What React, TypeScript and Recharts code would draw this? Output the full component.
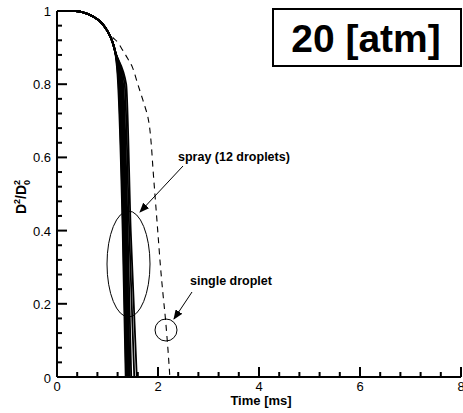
import { LineChart, Line, XAxis, YAxis, ReferenceLine } from "recharts";

// shared early part of all curves (time [ms], D^2/D0^2)
const earlyTimes = [0, 0.36, 0.5, 0.7, 0.9, 1.0, 1.1, 1.15];
const earlyD2 = [1, 1, 0.997, 0.986, 0.965, 0.945, 0.915, 0.89];

// spray droplets: time at which D^2/D0^2 reaches 0.8, 0.4 and 0
const sprayT08 = [1.21, 1.22, 1.23, 1.24, 1.25, 1.26, 1.27, 1.28, 1.29, 1.31, 1.34, 1.37];
const sprayT04 = [1.3, 1.31, 1.32, 1.33, 1.34, 1.35, 1.36, 1.37, 1.38, 1.4, 1.43, 1.46];
const sprayT00 = [1.36, 1.37, 1.38, 1.39, 1.4, 1.41, 1.42, 1.43, 1.44, 1.47, 1.53, 1.58];

// single droplet (dashed)
const singleTimes = [0, 0.36, 0.5, 0.7, 0.9, 1.0, 1.1, 1.2, 1.3, 1.4, 1.5, 1.6, 1.7, 1.75, 1.8, 1.84, 1.87, 1.9, 1.95, 2.0, 2.05, 2.1, 2.15, 2.2, 2.235];
const singleD2 = [1, 1, 0.997, 0.986, 0.965, 0.945, 0.928, 0.915, 0.893, 0.87, 0.844, 0.8, 0.757, 0.735, 0.71, 0.675, 0.63, 0.57, 0.48, 0.39, 0.3, 0.225, 0.155, 0.07, 0];

const xTicks = [0, 0.4, 0.8, 1.2, 1.6, 2, 2.4, 2.8, 3.2, 3.6, 4, 4.4, 4.8, 5.2, 5.6, 6, 6.4, 6.8, 7.2, 7.6, 8];
const xLabels = [0, 2, 4, 6, 8];
const yTicks = [0, 0.04, 0.08, 0.12, 0.16, 0.2, 0.24, 0.28, 0.32, 0.36, 0.4, 0.44, 0.48, 0.52, 0.56, 0.6, 0.64, 0.68, 0.72, 0.76, 0.8, 0.84, 0.88, 0.92, 0.96, 1];
const yLabels = [0, 0.2, 0.4, 0.6, 0.8, 1];

const FONT = "'Liberation Sans', Arial, sans-serif";

const W = 463;
const H = 413;
const PLOT_L = 57;
const PLOT_R = 461;
const PLOT_T = 11;
const PLOT_B = 377;
const X_MAX = 8;
// tick lengths in pixels converted to data units
const xUnit = X_MAX / (PLOT_R - PLOT_L);
const yUnit = 1 / (PLOT_B - PLOT_T);

const early = earlyTimes.map((t, i) => ({ t, d: earlyD2[i] }));
const sprayData = sprayT08.map((t8, i) => [
  ...early,
  { t: t8, d: 0.8 },
  { t: sprayT04[i], d: 0.4 },
  { t: sprayT00[i], d: 0 },
]);
const singleData = singleTimes.map((t, i) => ({ t, d: singleD2[i] }));

const renderXTick = (props: any) => {
  const { x, y, payload } = props;
  if (!xLabels.includes(payload.value)) return <g />;
  return (
    <text x={x} y={y + 14} textAnchor="middle" fontSize={13} fontFamily={FONT} fill="#000">
      {payload.value}
    </text>
  );
};

const renderYTick = (props: any) => {
  const { x, y, payload } = props;
  const v = payload.value;
  if (!yLabels.includes(v)) return <g />;
  const label = v === 0 ? "0" : v === 1 ? "1" : v.toFixed(1);
  return (
    <text x={x - 6} y={y + (v === 0 ? 6 : 5)} textAnchor="end" fontSize={13} fontFamily={FONT} fill="#000">
      {label}
    </text>
  );
};

export default function App() {
  return (
    <div style={{ position: "absolute", left: 0, top: 0, width: W, height: H, background: "#fff" }}>
      <LineChart width={W} height={H} margin={{ top: PLOT_T, right: W - PLOT_R, left: 0, bottom: 0 }}>
        <XAxis
          xAxisId={0}
          type="number"
          dataKey="t"
          domain={[0, X_MAX]}
          ticks={xTicks}
          interval={0}
          tick={renderXTick}
          tickLine={false}
          tickSize={0}
          tickMargin={0}
          height={H - PLOT_B}
          axisLine={{ stroke: "#000", strokeWidth: 2 }}
          allowDataOverflow
        />
        <XAxis
          xAxisId="top"
          orientation="top"
          type="number"
          dataKey="t"
          domain={[0, X_MAX]}
          tick={false}
          tickLine={false}
          height={0}
          axisLine={{ stroke: "#000", strokeWidth: 2 }}
        />
        <YAxis
          yAxisId={0}
          type="number"
          domain={[0, 1]}
          ticks={yTicks}
          interval={0}
          tick={renderYTick}
          tickLine={false}
          tickSize={0}
          tickMargin={0}
          width={PLOT_L}
          axisLine={{ stroke: "#000", strokeWidth: 2 }}
        />
        <YAxis
          yAxisId="right"
          orientation="right"
          type="number"
          domain={[0, 1]}
          tick={false}
          tickLine={false}
          width={0}
          axisLine={{ stroke: "#000", strokeWidth: 2 }}
        />
        {xTicks.map((t) => (
          <ReferenceLine
            key={`xt${t}`}
            segment={[
              { x: t, y: 0 },
              { x: t, y: (xLabels.includes(t) ? 10 : 5) * yUnit },
            ]}
            stroke="#000"
            strokeWidth={2}
            ifOverflow="visible"
          />
        ))}
        {yTicks.map((d) => (
          <ReferenceLine
            key={`yt${d}`}
            segment={[
              { x: 0, y: d },
              { x: (yLabels.includes(d) ? 10 : 5) * xUnit, y: d },
            ]}
            stroke="#000"
            strokeWidth={2}
            ifOverflow="visible"
          />
        ))}
        {sprayData.map((pts, i) => (
          <Line
            key={`spray-${i}`}
            data={pts}
            dataKey="d"
            type="monotone"
            stroke="#000"
            strokeWidth={1.8}
            dot={false}
            isAnimationActive={false}
          />
        ))}
        <Line
          data={singleData}
          dataKey="d"
          type="monotone"
          stroke="#000"
          strokeWidth={1.1}
          strokeDasharray="6 5"
          dot={false}
          isAnimationActive={false}
        />
      </LineChart>
      <svg
        width={W}
        height={H}
        style={{ position: "absolute", left: 0, top: 0, pointerEvents: "none" }}
        fontFamily={FONT}
      >
        <defs>
          <marker id="arr" markerWidth="10" markerHeight="8" refX="9" refY="4" orient="auto" markerUnits="userSpaceOnUse">
            <path d="M0,0 L10,4 L0,8 Z" fill="#000" />
          </marker>
        </defs>
        {/* pressure box */}
        <rect x={273} y={9} width={188} height={57} fill="#fff" stroke="#000" strokeWidth={2} />
        <text x={366} y={52} textAnchor="middle" fontSize={39} fontWeight="bold" fill="#000">
          20 [atm]
        </text>
        {/* spray annotation */}
        <text x={178} y={161} fontSize={12.5} fontWeight="bold" fill="#000">
          spray (12 droplets)
        </text>
        <line x1={183} y1={166} x2={140} y2={212} stroke="#000" strokeWidth={1} markerEnd="url(#arr)" />
        <ellipse cx={128.5} cy={264} rx={21.5} ry={53} fill="none" stroke="#000" strokeWidth={1} />
        {/* single droplet annotation */}
        <text x={190} y={285} fontSize={12.5} fontWeight="bold" fill="#000">
          single droplet
        </text>
        <line x1={192} y1={292} x2={174} y2={319} stroke="#000" strokeWidth={1} markerEnd="url(#arr)" />
        <circle cx={166} cy={330} r={11} fill="none" stroke="#000" strokeWidth={1} />
        {/* axis titles */}
        <text x={261} y={405} textAnchor="middle" fontSize={13} fontWeight="bold" fill="#000">
          Time [ms]
        </text>
        <text transform="translate(26,197) rotate(-90)" textAnchor="middle" fontSize={14} fontWeight="bold" fill="#000">
          D<tspan dy={-6} fontSize={9}>2</tspan>
          <tspan dy={6}>/D</tspan>
          <tspan dy={4} fontSize={9}>0</tspan>
          <tspan dx={-5} dy={-10} fontSize={9}>2</tspan>
        </text>
      </svg>
    </div>
  );
}
